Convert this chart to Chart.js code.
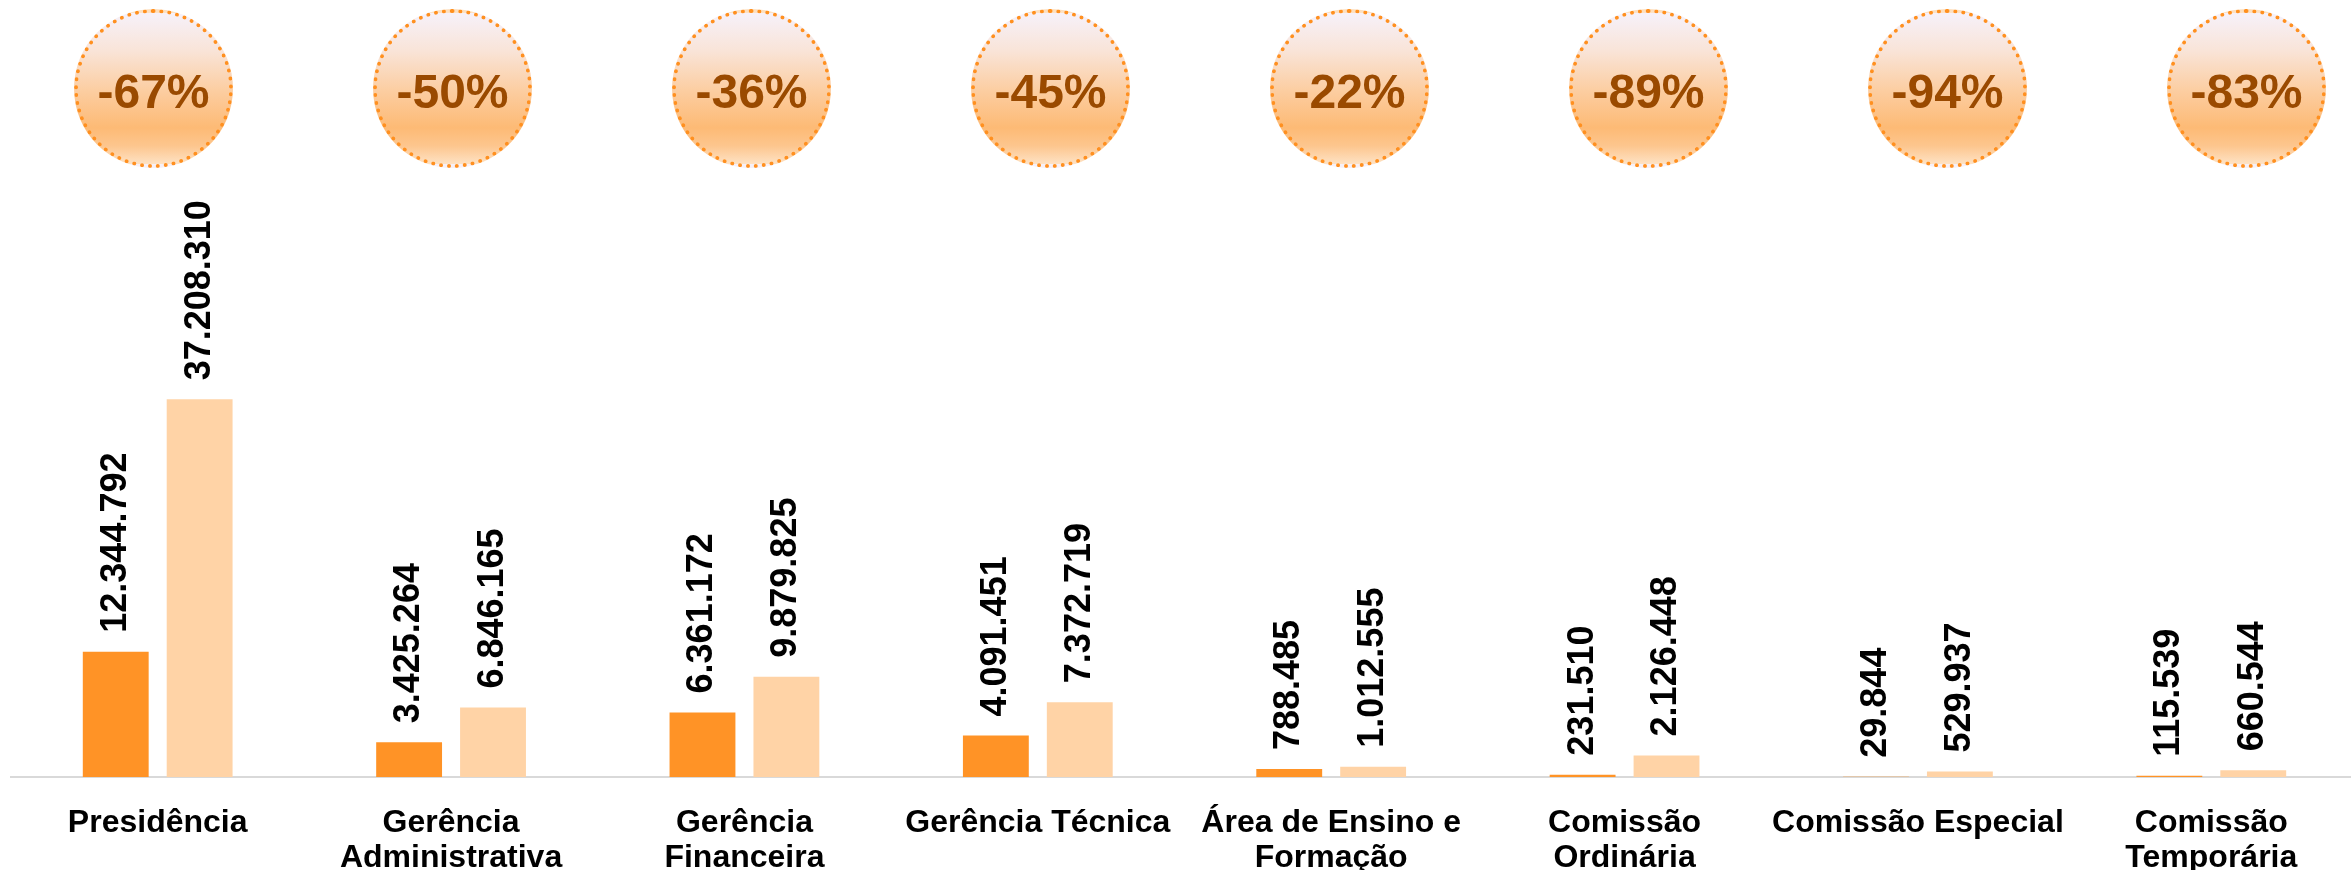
<!DOCTYPE html>
<html>
<head>
<meta charset="utf-8">
<script src="https://cdn.jsdelivr.net/npm/chart.js@4/dist/chart.umd.min.js"></script>
<style>
  html, body { margin: 0; padding: 0; background: #fff; overflow: hidden; }
  #wrap { position: relative; width: 2351px; height: 870px; overflow: hidden; }
  #chart { position: absolute; left: 0; top: 0; }
  #badges {
    position: absolute; top: 9px; left: 74px;
    display: flex; gap: 140px; z-index: 2;
  }
  .badge {
    width: 159px; height: 159px; box-sizing: border-box;
    border: 4.5px dotted #FF9020; border-radius: 50%;
    background: linear-gradient(to bottom, #F6F1FA 0%, #F9E4D8 25%, #FCCDA0 52%, #FDBA75 76%, #FDC68E 88%, #FEE2C4 100%);
    display: flex; align-items: center; justify-content: center;
    padding-top: 6px;
    font: bold 48px "Liberation Sans", Arial, sans-serif;
    color: #9A4A00;
  }
</style>
</head>
<body>
<div id="wrap">
  <canvas id="chart" width="2358" height="870"></canvas>
  <div id="badges"></div>
</div>
<script>
// =============================================================================
// DATA
// =============================================================================

const categories = [
  ['Presidência'],
  ['Gerência', 'Administrativa'],
  ['Gerência', 'Financeira'],
  ['Gerência Técnica'],
  ['Área de Ensino e', 'Formação'],
  ['Comissão', 'Ordinária'],
  ['Comissão Especial'],
  ['Comissão', 'Temporária']
];

const currentValues = [12344792, 3425264, 6361172, 4091451, 788485, 231510, 29844, 115539];
const previousValues = [37208310, 6846165, 9879825, 7372719, 1012555, 2126448, 529937, 660544];
const changePct = [-67, -50, -36, -45, -22, -89, -94, -83];

// =============================================================================
// HELPERS
// =============================================================================

const FONT = '"Liberation Sans", Arial, sans-serif';

/**
 * Format number with dot as thousands separator (pt-BR style)
 */
function fmt(n) {
  return String(n).replace(/\B(?=(\d{3})+(?!\d))/g, '.');
}

// Rotated value labels above each bar
const valueLabels = {
  id: 'valueLabels',
  afterDatasetsDraw(chart) {
    const ctx = chart.ctx;
    ctx.save();
    ctx.font = 'bold 36px ' + FONT;
    ctx.fillStyle = '#000';
    ctx.textAlign = 'left';
    ctx.textBaseline = 'middle';
    chart.data.datasets.forEach((ds, i) => {
      chart.getDatasetMeta(i).data.forEach((bar, j) => {
        ctx.save();
        ctx.translate(bar.x, bar.y - 19);
        ctx.rotate(-Math.PI / 2);
        ctx.fillText(fmt(ds.data[j]), 0, 0);
        ctx.restore();
      });
    });
    ctx.restore();
  }
};

// =============================================================================
// CHART
// =============================================================================

new Chart(document.getElementById('chart').getContext('2d'), {
  type: 'bar',
  data: {
    labels: categories,
    datasets: [
      {
        data: currentValues,
        backgroundColor: '#FF9326',
        borderWidth: 0,
        categoryPercentage: 0.572,
        barPercentage: 0.785
      },
      {
        data: previousValues,
        backgroundColor: '#FFD3A6',
        borderWidth: 0,
        categoryPercentage: 0.572,
        barPercentage: 0.785
      }
    ]
  },
  options: {
    responsive: false,
    animation: false,
    devicePixelRatio: 1,
    layout: { padding: { left: 11, right: 0, top: 168, bottom: 0 } },
    plugins: {
      legend: { display: false },
      tooltip: { enabled: false }
    },
    scales: {
      x: {
        grid: { display: false },
        border: { display: true, color: '#D9D9D9', width: 2 },
        ticks: {
          color: '#000',
          padding: 21,
          maxRotation: 0,
          autoSkip: false,
          font: { family: FONT, size: 32, weight: 'bold', lineHeight: 35 / 32 }
        },
        afterFit: (scale) => { scale.height = 93; }
      },
      y: {
        display: false,
        min: 0,
        max: 60000000
      }
    }
  },
  plugins: [valueLabels]
});

// Percentage badges across the top
const badges = document.getElementById('badges');
changePct.forEach(p => {
  const el = document.createElement('div');
  el.className = 'badge';
  el.textContent = p + '%';
  badges.appendChild(el);
});
</script>
</body>
</html>
